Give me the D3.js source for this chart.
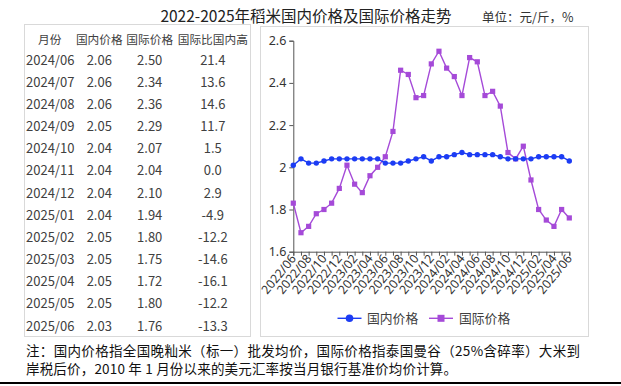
<!DOCTYPE html>
<html><head><meta charset="utf-8">
<script src="https://cdn.jsdelivr.net/npm/d3@7/dist/d3.min.js"></script>
<style>
html,body{margin:0;padding:0;background:#fff;}
svg{display:block;}
text{font-family:"Noto Sans CJK SC","Noto Sans",sans-serif;}
</style></head>
<body>
<svg id="c" width="621" height="386"></svg>
<script>
// ---- data ----
const months = ["2022/06","2022/07","2022/08","2022/09","2022/10","2022/11","2022/12",
"2023/01","2023/02","2023/03","2023/04","2023/05","2023/06","2023/07","2023/08","2023/09","2023/10","2023/11","2023/12",
"2024/01","2024/02","2024/03","2024/04","2024/05","2024/06","2024/07","2024/08","2024/09","2024/10","2024/11","2024/12",
"2025/01","2025/02","2025/03","2025/04","2025/05","2025/06"];
const domestic = [2.01,2.04,2.02,2.02,2.03,2.04,2.04,2.04,2.04,2.04,2.04,2.04,2.02,2.02,2.02,2.03,2.04,2.05,2.03,
2.05,2.05,2.06,2.07,2.06,2.06,2.06,2.06,2.05,2.04,2.04,2.04,2.04,2.05,2.05,2.05,2.05,2.03];
const international = [1.83,1.69,1.72,1.78,1.80,1.83,1.90,2.01,1.92,1.88,1.96,2.00,2.05,2.17,2.46,2.44,2.33,2.34,2.49,
2.55,2.47,2.43,2.34,2.52,2.50,2.34,2.36,2.29,2.07,2.04,2.10,1.94,1.80,1.75,1.72,1.80,1.76];
const xTickLabels = months.filter((m,i)=>i%2===0);
const yTicks = [1.6,1.8,2.0,2.2,2.4,2.6];
const seriesNames = ["国内价格","国际价格"];

const tableHeader = ["月份","国内价格","国际价格","国际比国内高"];
const tableMonths = ["2024/06","2024/07","2024/08","2024/09","2024/10","2024/11","2024/12","2025/01","2025/02","2025/03","2025/04","2025/05","2025/06"];
const tableDomestic = ["2.06","2.06","2.06","2.05","2.04","2.04","2.04","2.04","2.05","2.05","2.05","2.05","2.03"];
const tableIntl = ["2.50","2.34","2.36","2.29","2.07","2.04","2.10","1.94","1.80","1.75","1.72","1.80","1.76"];
const tableDiff = ["21.4","13.6","14.6","11.7","1.5","0.0","2.9","-4.9","-12.2","-14.6","-16.1","-12.2","-13.3"];

const titleText = "2022-2025年稻米国内价格及国际价格走势";
const unitText = "单位：元/斤，%";
const noteLines = ["注：国内价格指全国晚籼米（标一）批发均价，国际价格指泰国曼谷（25%含碎率）大米到",
"岸税后价，2010 年 1 月份以来的美元汇率按当月银行基准价均价计算。"];

// ---- drawing ----
const svg = d3.select("#c");
const BLUE = "#1c3cf4", PURPLE = "#a54ad8", TXT = "#404040";

svg.append("text").attr("x",306).attr("y",22).attr("text-anchor","middle")
  .attr("font-size",15.5).attr("fill","#222").text(titleText);
svg.append("text").attr("x",482).attr("y",22)
  .attr("font-size",12.5).attr("fill","#333").text(unitText);

// panels
svg.append("rect").attr("x",24.5).attr("y",24.5).attr("width",226).attr("height",312)
  .attr("fill","none").attr("stroke","#d9d9d9");
svg.append("rect").attr("x",260.5).attr("y",26.5).attr("width",328).attr("height",310)
  .attr("fill","none").attr("stroke","#d9d9d9");

// table
const colX = [49.7, 99.3, 149.7, 212.8];
const hdr = svg.append("g");
tableHeader.forEach((h,i)=>{
  hdr.append("text").attr("x",colX[i]).attr("y",40).attr("dy","0.35em")
    .attr("text-anchor","middle").attr("font-size",11.7).attr("fill",TXT).text(h);
});
const rowY = d3.scaleLinear().domain([0,12]).range([60,326]);
const cols = [tableMonths, tableDomestic, tableIntl, tableDiff];
tableMonths.forEach((m,r)=>{
  cols.forEach((col,c)=>{
    const t = svg.append("text").attr("y",rowY(r)).attr("dy","0.35em")
      .attr("font-size",13).attr("fill",TXT).text(col[r]);
    if(c===0) t.attr("x",26).attr("text-anchor","start");
    else t.attr("x",colX[c]).attr("text-anchor","middle");
  });
});

// chart
const x = d3.scalePoint().domain(months).range([293.3,569.3]);
const y = d3.scaleLinear().domain([1.6,2.6]).range([251.7,40.7]);

const yAxis = svg.append("g").attr("transform","translate(293.3,0)")
  .call(d3.axisLeft(y).tickValues(yTicks).tickFormat(d3.format("~g")).tickSize(4).tickPadding(3));
yAxis.selectAll("text").attr("font-size",12.5).attr("fill","#333")
  .style("font-family","'Noto Sans','Noto Sans CJK SC',sans-serif");
yAxis.select(".domain").attr("stroke","#555");
yAxis.selectAll(".tick line").attr("stroke","#555");

const xAxis = svg.append("g").attr("transform","translate(0,251.7)")
  .call(d3.axisBottom(x).tickSize(4).tickFormat(d=>xTickLabels.includes(d)?d:""));
xAxis.select(".domain").attr("stroke","#555");
xAxis.selectAll(".tick line").attr("stroke","#555");
xAxis.selectAll("text").attr("font-size",12.3).attr("fill","#333")
  .style("font-family","'Noto Sans','Noto Sans CJK SC',sans-serif")
  .attr("text-anchor","end").attr("dy",0).attr("y",0)
  .attr("transform","translate(3,7) rotate(-51)");

const line = d3.line().x((d,i)=>x(months[i])).y(d=>y(d));
svg.append("path").datum(international).attr("d",line)
  .attr("fill","none").attr("stroke",PURPLE).attr("stroke-width",1.4);
svg.append("path").datum(domestic).attr("d",line)
  .attr("fill","none").attr("stroke",BLUE).attr("stroke-width",1.4);

svg.append("g").selectAll("rect").data(international).join("rect")
  .attr("x",(d,i)=>x(months[i])-2.6).attr("y",d=>y(d)-2.6)
  .attr("width",5.2).attr("height",5.2).attr("fill",PURPLE);
svg.append("g").selectAll("circle").data(domestic).join("circle")
  .attr("cx",(d,i)=>x(months[i])).attr("cy",d=>y(d)).attr("r",2.7).attr("fill",BLUE);

// legend
const lg = svg.append("g");
lg.append("line").attr("x1",337.5).attr("x2",361.5).attr("y1",318.3).attr("y2",318.3).attr("stroke",BLUE).attr("stroke-width",1.4);
lg.append("circle").attr("cx",349.5).attr("cy",318.3).attr("r",3.8).attr("fill",BLUE);
lg.append("text").attr("x",367).attr("y",318.3).attr("dy","0.35em").attr("font-size",12.8).attr("fill",TXT).text(seriesNames[0]);
lg.append("line").attr("x1",429).attr("x2",453).attr("y1",318.3).attr("y2",318.3).attr("stroke",PURPLE).attr("stroke-width",1.4);
lg.append("rect").attr("x",437.5).attr("y",314.8).attr("width",7).attr("height",7).attr("fill",PURPLE);
lg.append("text").attr("x",459).attr("y",318.3).attr("dy","0.35em").attr("font-size",12.8).attr("fill",TXT).text(seriesNames[1]);

// footnote
svg.append("text").attr("x",26).attr("y",351).attr("dy","0.35em").attr("font-size",13.5)
  .attr("fill","#111").attr("textLength",554).attr("lengthAdjust","spacing").text(noteLines[0]);
svg.append("text").attr("x",26).attr("y",369.5).attr("dy","0.35em").attr("font-size",13.5)
  .attr("fill","#111").attr("textLength",431).attr("lengthAdjust","spacing").text(noteLines[1]);
svg.append("line").attr("x1",0).attr("x2",621).attr("y1",383).attr("y2",383).attr("stroke","#000").attr("stroke-width",2);
</script>
</body></html>
